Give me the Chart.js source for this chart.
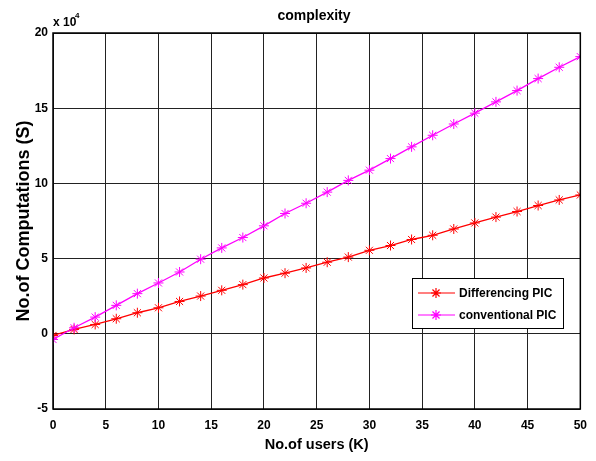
<!DOCTYPE html>
<html>
<head>
<meta charset="utf-8">
<script src="https://cdn.jsdelivr.net/npm/chart.js@4.4.1/dist/chart.umd.min.js"></script>
<style>
  html, body { margin: 0; padding: 0; background: #fff; }
  canvas { display: block; }
</style>
</head>
<body>
<canvas id="chart" width="596" height="461"></canvas>
<script>
// Number of users K (x axis)
const users = [0, 2, 4, 6, 8, 10, 12, 14, 16, 18, 20, 22, 24, 26, 28, 30, 32, 34, 36, 38, 40, 42, 44, 46, 48, 50];
// Number of computations, in units of 10^4
const differencingPIC = [-0.11, 0.29, 0.62, 1.0, 1.4, 1.73, 2.15, 2.51, 2.89, 3.27, 3.71, 4.03, 4.38,
  4.76, 5.1, 5.55, 5.87, 6.27, 6.55, 6.97, 7.37, 7.76, 8.13, 8.53, 8.9, 9.23];
const conventionalPIC = [-0.38, 0.4, 1.11, 1.89, 2.67, 3.38, 4.11, 4.96, 5.71, 6.4, 7.18, 8.0, 8.68,
  9.42, 10.2, 10.88, 11.65, 12.43, 13.2, 13.95, 14.67, 15.42, 16.17, 16.97, 17.72, 18.43];
const seriesNames = ['Differencing PIC', 'conventional PIC'];
const xTicks = [0, 5, 10, 15, 20, 25, 30, 35, 40, 45, 50];
const yTicks = [-5, 0, 5, 10, 15, 20];
const yExponent = 4;
const chartTitle = 'complexity';
const xTitle = 'No.of users (K)';
const yTitle = 'No.of Computations (S)';

const FONT = '"Liberation Sans", Arial, sans-serif';
const toPoints = (ys) => users.map((x, i) => ({ x, y: ys[i] }));

// Frame, title, exponent label and legend box
const decorations = {
  id: 'decorations',
  afterDraw(chart) {
    const { ctx, chartArea: a } = chart;
    ctx.save();
    ctx.strokeStyle = '#000';
    ctx.lineWidth = 1.5;
    ctx.strokeRect(a.left, a.top, a.right - a.left, a.bottom - a.top);

    ctx.fillStyle = '#000';
    ctx.textBaseline = 'alphabetic';
    ctx.textAlign = 'center';
    ctx.font = 'bold 14px ' + FONT;
    ctx.fillText(chartTitle, 314, 20);

    ctx.textAlign = 'left';
    ctx.font = 'bold 12px ' + FONT;
    ctx.fillText('x 10', 53, 26);
    ctx.font = 'bold 8px ' + FONT;
    ctx.fillText(String(yExponent), 75, 18);

    // legend
    const lx = 412, ly = 278, lw = 151, lh = 50;
    ctx.fillStyle = '#fff';
    ctx.fillRect(lx, ly, lw, lh);
    ctx.strokeStyle = '#000';
    ctx.lineWidth = 1;
    ctx.strokeRect(lx + 0.5, ly + 0.5, lw, lh);
    chart.data.datasets.forEach((ds, i) => {
      const cy = ly + 15 + i * 22;
      ctx.strokeStyle = ds.borderColor;
      ctx.lineWidth = 1.2;
      ctx.beginPath();
      ctx.moveTo(418, cy);
      ctx.lineTo(455, cy);
      ctx.stroke();
      Chart.helpers.drawPoint(ctx, { pointStyle: 'star', radius: 5, borderWidth: 1 }, 436, cy);
      ctx.fillStyle = '#000';
      ctx.font = 'bold 12px ' + FONT;
      ctx.textBaseline = 'middle';
      ctx.fillText(ds.label, 459, cy + 1);
    });
    ctx.restore();
  }
};

new Chart(document.getElementById('chart'), {
  type: 'scatter',
  data: {
    datasets: [
      {
        label: seriesNames[0],
        data: toPoints(differencingPIC),
        showLine: true,
        borderColor: '#ff0000',
        backgroundColor: '#ff0000',
        borderWidth: 1.3,
        pointStyle: 'star',
        pointRadius: 5,
        pointBorderWidth: 1,
        order: 2
      },
      {
        label: seriesNames[1],
        data: toPoints(conventionalPIC),
        showLine: true,
        borderColor: '#ff00ff',
        backgroundColor: '#ff00ff',
        borderWidth: 1.3,
        pointStyle: 'star',
        pointRadius: 5,
        pointBorderWidth: 1,
        order: 1
      }
    ]
  },
  options: {
    responsive: false,
    animation: false,
    layout: { padding: { top: 33, right: 15, left: 0, bottom: 0 } },
    plugins: {
      legend: { display: false },
      tooltip: { enabled: false },
      title: { display: false }
    },
    scales: {
      x: {
        type: 'linear',
        min: 0,
        max: 50,
        afterFit(scale) { scale.height = 52; },
        afterBuildTicks(scale) { scale.ticks = xTicks.map(v => ({ value: v })); },
        grid: { color: '#222', lineWidth: 1, drawTicks: false },
        border: { display: false },
        ticks: { color: '#000', padding: 9, font: { family: FONT, size: 12, weight: 'bold' } },
        title: {
          display: true,
          text: xTitle,
          color: '#000',
          padding: { top: 0, bottom: 7 },
          font: { family: FONT, size: 14.5, weight: 'bold' }
        }
      },
      y: {
        type: 'linear',
        min: -5,
        max: 20,
        afterFit(scale) { scale.width = 53; },
        afterBuildTicks(scale) { scale.ticks = yTicks.map(v => ({ value: v })); },
        grid: { color: '#222', lineWidth: 1, drawTicks: false },
        border: { display: false },
        ticks: { color: '#000', padding: 5, font: { family: FONT, size: 12, weight: 'bold' } },
        title: {
          display: true,
          text: yTitle,
          color: '#000',
          padding: { top: 13, bottom: 0 },
          font: { family: FONT, size: 18, weight: 'bold' }
        }
      }
    }
  },
  plugins: [decorations]
});
</script>
</body>
</html>
